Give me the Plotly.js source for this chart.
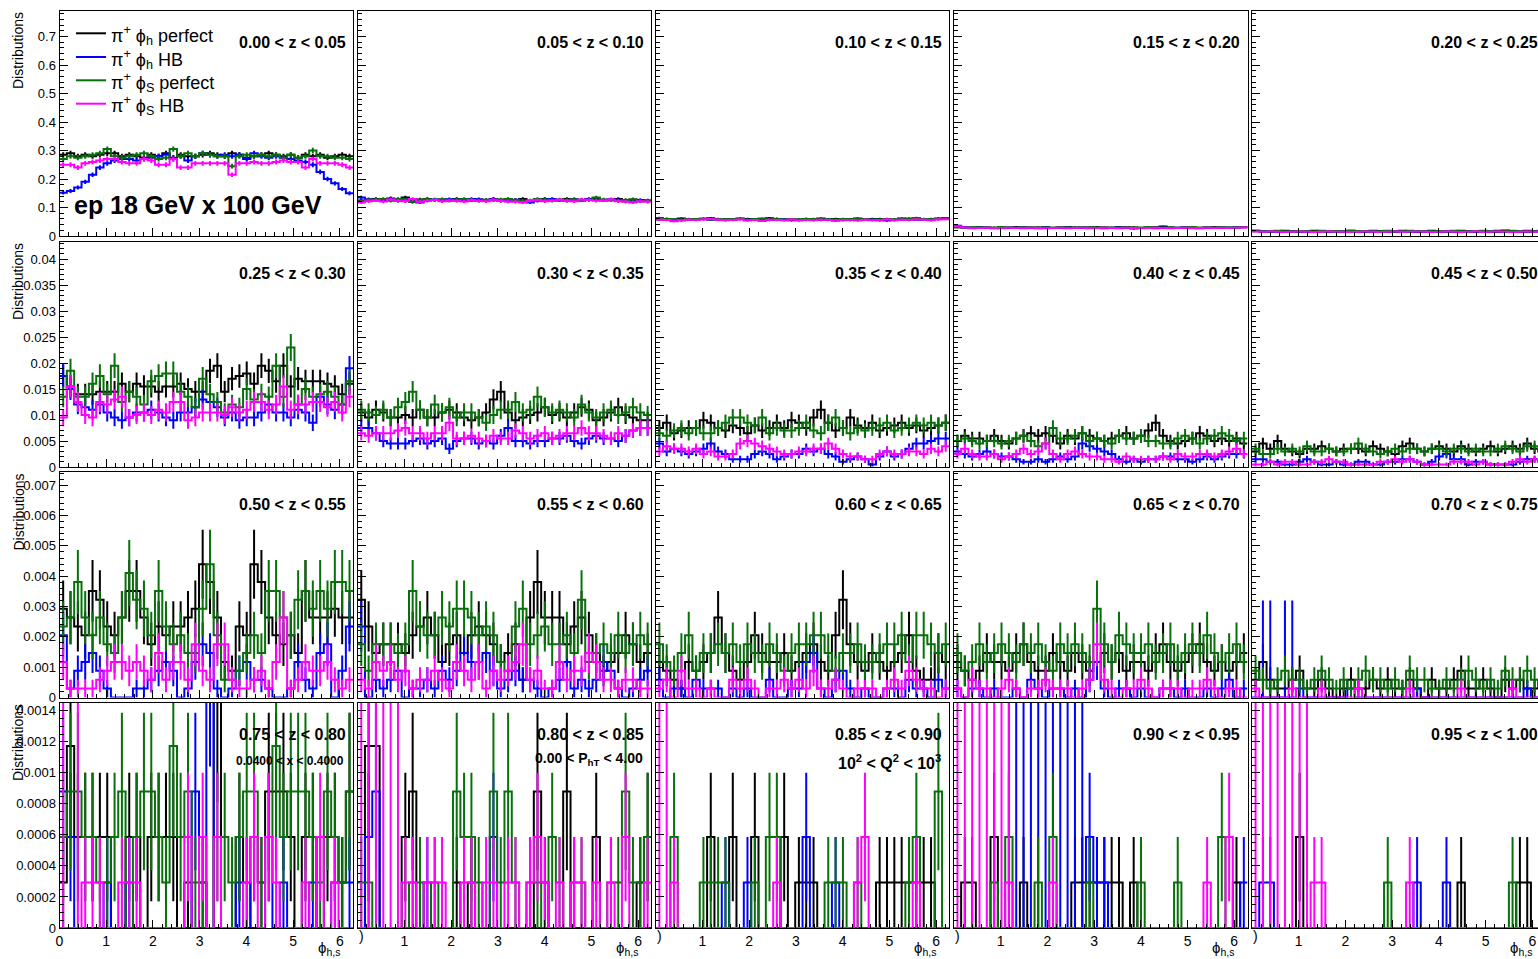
<!DOCTYPE html>
<html>
<head>
<meta charset="utf-8">
<script src="https://cdn.plot.ly/plotly-3.0.1.min.js"></script>
<style>
html,body{margin:0;padding:0;background:#fff;overflow:hidden;width:1538px;height:959px;}
#chart{width:1560px;height:959px;}
</style>
</head>
<body>
<div id="chart"></div>
<script>
// ---------------- DATA ----------------
// 40 bins in phi over [0, 2*pi]; one event has weight EVENT_W in "Distributions"
const N_BINS = 40;
const EVENT_W = 0.000293;
const WIDE_ERR = 0.0032;   // error of HB bins with (cancelling) large weights

const zLabels = ["0.00 < z < 0.05","0.05 < z < 0.10","0.10 < z < 0.15","0.15 < z < 0.20","0.20 < z < 0.25",
                 "0.25 < z < 0.30","0.30 < z < 0.35","0.35 < z < 0.40","0.40 < z < 0.45","0.45 < z < 0.50",
                 "0.50 < z < 0.55","0.55 < z < 0.60","0.60 < z < 0.65","0.65 < z < 0.70","0.70 < z < 0.75",
                 "0.75 < z < 0.80","0.80 < z < 0.85","0.85 < z < 0.90","0.90 < z < 0.95","0.95 < z < 1.00"];
const seriesNames = ["π<sup>+</sup> ϕ<sub>h</sub> perfect","π<sup>+</sup> ϕ<sub>h</sub> HB","π<sup>+</sup> ϕ<sub>S</sub> perfect","π<sup>+</sup> ϕ<sub>S</sub> HB"];
const xTickVals = [0,1,2,3,4,5,6];
const yTickVals = [[0,0.1,0.2,0.3,0.4,0.5,0.6,0.7],
                   [0,0.005,0.01,0.015,0.02,0.025,0.03,0.035,0.04],
                   [0,0.001,0.002,0.003,0.004,0.005,0.006,0.007],
                   [0,0.0002,0.0004,0.0006,0.0008,0.001,0.0012,0.0014]];
const yTickText = [["0","0.1","0.2","0.3","0.4","0.5","0.6","0.7"],
                   ["0","0.005","0.01","0.015","0.02","0.025","0.03","0.035","0.04"],
                   ["0","0.001","0.002","0.003","0.004","0.005","0.006","0.007"],
                   ["0","0.0002","0.0004","0.0006","0.0008","0.001","0.0012","0.0014"]];
const yMax = [0.7914, 0.04338, 0.007437, 0.001453];

// ---- rows 1-2: values in "Distributions" units ----
const z00_phPerf = [0.285,0.29,0.28,0.285,0.28,0.285,0.29,0.29,0.28,0.285, 0.28,0.275,0.285,0.28,0.29,0.275,0.285,0.28,0.28,0.285, 0.29,0.285,0.28,0.29,0.285,0.275,0.28,0.285,0.29,0.285, 0.28,0.285,0.275,0.285,0.28,0.285,0.275,0.28,0.285,0.28];
const z00_phHB   = [0.152,0.158,0.17,0.19,0.215,0.24,0.255,0.265,0.27,0.27, 0.265,0.27,0.275,0.28,0.285,0.27,0.28,0.265,0.28,0.29, 0.285,0.28,0.285,0.28,0.285,0.27,0.29,0.28,0.275,0.28, 0.275,0.27,0.265,0.26,0.25,0.225,0.2,0.185,0.165,0.15];
const z00_psPerf = [0.27,0.28,0.275,0.28,0.285,0.29,0.305,0.28,0.275,0.28, 0.285,0.29,0.28,0.27,0.275,0.305,0.28,0.29,0.28,0.29, 0.285,0.28,0.28,0.245,0.28,0.285,0.28,0.285,0.28,0.285, 0.275,0.285,0.275,0.28,0.3,0.28,0.28,0.275,0.275,0.27];
const z00_psHB   = [0.25,0.25,0.24,0.255,0.26,0.265,0.27,0.27,0.26,0.255, 0.255,0.27,0.265,0.25,0.25,0.27,0.24,0.24,0.255,0.255, 0.255,0.255,0.255,0.215,0.255,0.255,0.26,0.255,0.255,0.26, 0.265,0.26,0.26,0.24,0.27,0.255,0.255,0.255,0.25,0.24];

const z05_phPerf = [0.125,0.128,0.13,0.126,0.132,0.128,0.135,0.12,0.128,0.13, 0.126,0.128,0.125,0.13,0.127,0.125,0.128,0.124,0.13,0.126, 0.128,0.125,0.13,0.122,0.127,0.13,0.128,0.125,0.13,0.127, 0.125,0.128,0.132,0.126,0.127,0.13,0.125,0.128,0.122,0.124];
const z05_phHB   = [0.135,0.128,0.125,0.127,0.13,0.124,0.128,0.126,0.118,0.125, 0.128,0.126,0.129,0.127,0.125,0.13,0.128,0.126,0.13,0.124, 0.122,0.127,0.125,0.118,0.124,0.128,0.13,0.126,0.124,0.129, 0.126,0.13,0.127,0.125,0.128,0.126,0.122,0.124,0.126,0.125];
const z05_psPerf = [0.122,0.126,0.128,0.13,0.124,0.13,0.128,0.122,0.126,0.129, 0.127,0.128,0.124,0.127,0.13,0.126,0.124,0.127,0.125,0.128, 0.13,0.126,0.124,0.125,0.13,0.127,0.124,0.128,0.126,0.129, 0.125,0.127,0.135,0.128,0.125,0.124,0.126,0.128,0.122,0.124];
const z05_psHB   = [0.118,0.122,0.125,0.121,0.128,0.124,0.122,0.13,0.12,0.124, 0.126,0.122,0.125,0.123,0.121,0.126,0.124,0.122,0.127,0.123, 0.121,0.12,0.118,0.124,0.126,0.122,0.125,0.127,0.124,0.122, 0.128,0.126,0.124,0.125,0.128,0.122,0.12,0.118,0.122,0.12];

const z10_phPerf = [0.058,0.06,0.057,0.061,0.059,0.058,0.06,0.062,0.058,0.059, 0.057,0.061,0.06,0.058,0.059,0.062,0.06,0.058,0.059,0.057, 0.06,0.059,0.061,0.058,0.06,0.057,0.059,0.061,0.058,0.06, 0.06,0.059,0.058,0.061,0.06,0.062,0.058,0.06,0.061,0.062];
const z10_phHB   = [0.063,0.06,0.058,0.055,0.057,0.058,0.06,0.057,0.059,0.056, 0.058,0.06,0.057,0.059,0.058,0.056,0.06,0.058,0.055,0.057, 0.059,0.058,0.056,0.057,0.054,0.058,0.056,0.057,0.059,0.058, 0.055,0.054,0.056,0.058,0.06,0.057,0.059,0.058,0.06,0.062];
const z10_psPerf = [0.062,0.06,0.058,0.057,0.06,0.059,0.061,0.058,0.06,0.059, 0.058,0.06,0.057,0.059,0.061,0.058,0.06,0.057,0.059,0.058, 0.06,0.06,0.059,0.058,0.057,0.06,0.058,0.06,0.059,0.057, 0.058,0.06,0.058,0.059,0.061,0.063,0.06,0.059,0.06,0.061];
const z10_psHB   = [0.058,0.056,0.052,0.055,0.057,0.056,0.058,0.06,0.057,0.055, 0.056,0.058,0.054,0.056,0.053,0.057,0.056,0.055,0.058,0.054, 0.056,0.055,0.057,0.056,0.054,0.055,0.056,0.054,0.057,0.055, 0.056,0.058,0.055,0.057,0.056,0.058,0.057,0.055,0.058,0.059];

const z15_phPerf = [0.032,0.03,0.029,0.031,0.03,0.028,0.03,0.029,0.031,0.03, 0.029,0.03,0.031,0.029,0.03,0.032,0.03,0.029,0.03,0.031, 0.03,0.028,0.031,0.032,0.03,0.029,0.03,0.031,0.033,0.03, 0.029,0.031,0.03,0.029,0.03,0.031,0.03,0.029,0.03,0.032];
const z15_phHB   = [0.036,0.032,0.028,0.03,0.029,0.027,0.029,0.03,0.028,0.03, 0.029,0.027,0.03,0.028,0.029,0.03,0.028,0.03,0.029,0.028, 0.027,0.029,0.03,0.028,0.026,0.028,0.029,0.027,0.03,0.028, 0.029,0.03,0.028,0.027,0.029,0.028,0.03,0.029,0.03,0.031];
const z15_psPerf = [0.03,0.029,0.031,0.03,0.029,0.03,0.031,0.03,0.028,0.03, 0.031,0.029,0.03,0.029,0.031,0.03,0.029,0.031,0.03,0.029, 0.03,0.03,0.029,0.031,0.03,0.029,0.031,0.03,0.029,0.03, 0.028,0.03,0.031,0.029,0.03,0.029,0.031,0.03,0.03,0.031];
const z15_psHB   = [0.034,0.03,0.027,0.028,0.029,0.028,0.027,0.029,0.028,0.027, 0.029,0.028,0.027,0.028,0.029,0.027,0.028,0.029,0.027,0.028, 0.029,0.028,0.027,0.029,0.028,0.027,0.028,0.029,0.028,0.027, 0.028,0.029,0.027,0.028,0.029,0.028,0.029,0.028,0.029,0.03];

const z20_phPerf = [0.018,0.017,0.016,0.017,0.018,0.017,0.016,0.017,0.018,0.017, 0.016,0.017,0.017,0.018,0.016,0.017,0.018,0.017,0.016,0.017, 0.018,0.017,0.017,0.016,0.018,0.017,0.016,0.017,0.018,0.017, 0.016,0.017,0.017,0.018,0.019,0.017,0.016,0.018,0.017,0.018];
const z20_phHB   = [0.018,0.016,0.015,0.014,0.015,0.016,0.014,0.015,0.014,0.016, 0.015,0.014,0.015,0.016,0.015,0.014,0.015,0.016,0.015,0.014, 0.016,0.015,0.014,0.015,0.016,0.014,0.015,0.014,0.016,0.015, 0.014,0.016,0.015,0.014,0.015,0.016,0.015,0.014,0.016,0.017];
const z20_psPerf = [0.017,0.016,0.017,0.018,0.017,0.016,0.017,0.017,0.016,0.018, 0.017,0.016,0.017,0.018,0.017,0.016,0.017,0.017,0.018,0.016, 0.017,0.018,0.017,0.016,0.017,0.017,0.016,0.018,0.017,0.016, 0.017,0.018,0.017,0.016,0.017,0.018,0.017,0.016,0.017,0.017];
const z20_psHB   = [0.016,0.015,0.016,0.015,0.014,0.015,0.016,0.015,0.014,0.015, 0.016,0.015,0.015,0.014,0.015,0.016,0.015,0.014,0.015,0.016, 0.015,0.015,0.016,0.015,0.014,0.015,0.016,0.015,0.014,0.015, 0.016,0.015,0.015,0.016,0.015,0.014,0.015,0.016,0.015,0.016];

const z25_phPerf = [0.0175,0.0155,0.014,0.014,0.014,0.0145,0.0145,0.0145,0.016,0.0145, 0.016,0.0155,0.0155,0.0145,0.0155,0.0155,0.016,0.015,0.0145,0.0145, 0.0185,0.0195,0.0145,0.017,0.0175,0.018,0.016,0.0195,0.0185,0.0165, 0.0195,0.0155,0.017,0.0165,0.0165,0.0165,0.016,0.0155,0.014,0.016];
const z25_phHB   = [0.0175,0.015,0.012,0.0115,0.011,0.012,0.0105,0.0095,0.009,0.0095, 0.0105,0.0105,0.011,0.0105,0.0095,0.009,0.0105,0.0105,0.0115,0.013, 0.0125,0.0115,0.0095,0.0105,0.009,0.0095,0.0095,0.0105,0.012,0.0105, 0.0105,0.0095,0.011,0.0105,0.0085,0.0135,0.012,0.011,0.012,0.019];
const z25_psPerf = [0.0135,0.0185,0.0135,0.0135,0.016,0.0175,0.014,0.0195,0.0125,0.0145, 0.0135,0.012,0.0165,0.0175,0.018,0.018,0.0145,0.0135,0.0115,0.017, 0.014,0.0125,0.0105,0.012,0.0115,0.015,0.013,0.014,0.0135,0.0195, 0.0135,0.023,0.012,0.015,0.0135,0.014,0.0145,0.0135,0.012,0.0165];
const z25_psHB   = [0.0095,0.0155,0.0125,0.01,0.0095,0.0125,0.012,0.013,0.0135,0.0095, 0.01,0.0105,0.01,0.011,0.0105,0.0125,0.0125,0.009,0.0095,0.0105, 0.0105,0.0105,0.01,0.0115,0.0105,0.011,0.0125,0.0125,0.011,0.012, 0.0155,0.011,0.012,0.012,0.0125,0.0125,0.0115,0.0125,0.0105,0.0135];

const z30_phPerf = [0.0105,0.0095,0.011,0.0105,0.0095,0.0095,0.01,0.0095,0.011,0.0095, 0.0095,0.0105,0.011,0.0105,0.0095,0.009,0.0095,0.0105,0.013,0.0145, 0.0105,0.009,0.0095,0.01,0.0105,0.0115,0.01,0.0105,0.0095,0.0105, 0.0115,0.011,0.009,0.0095,0.0105,0.0115,0.01,0.0095,0.009,0.009];
const z30_phHB   = [0.0075,0.0075,0.0065,0.005,0.0045,0.0045,0.0045,0.005,0.0055,0.0045, 0.005,0.0055,0.0035,0.005,0.0055,0.0055,0.0045,0.005,0.0045,0.006, 0.0075,0.005,0.005,0.0045,0.005,0.005,0.0055,0.0055,0.006,0.005, 0.0045,0.0055,0.006,0.0055,0.0055,0.005,0.006,0.007,0.0075,0.0075];
const z30_psPerf = [0.011,0.0105,0.01,0.011,0.0095,0.0115,0.0125,0.0145,0.011,0.0095, 0.012,0.0105,0.0115,0.0095,0.0105,0.0105,0.0095,0.0085,0.01,0.011, 0.011,0.0125,0.0105,0.011,0.0135,0.0115,0.0105,0.011,0.0105,0.0095, 0.012,0.0105,0.0095,0.0105,0.011,0.01,0.0105,0.0115,0.0105,0.01];
const z30_psHB   = [0.0065,0.006,0.0065,0.0065,0.0065,0.007,0.0075,0.0065,0.0065,0.0055, 0.0065,0.0065,0.0085,0.0055,0.0055,0.006,0.0055,0.005,0.006,0.0055, 0.0055,0.007,0.0065,0.0055,0.006,0.0065,0.0055,0.006,0.0065,0.0065, 0.0075,0.0065,0.0065,0.006,0.0055,0.0065,0.006,0.007,0.0075,0.0075];

const z35_phPerf = [0.0075,0.0085,0.0065,0.007,0.0075,0.0075,0.009,0.0085,0.0075,0.007, 0.008,0.0075,0.0065,0.008,0.007,0.0075,0.0085,0.0075,0.009,0.0085, 0.0075,0.0095,0.011,0.0085,0.007,0.0075,0.0095,0.008,0.0075,0.0085, 0.007,0.0075,0.008,0.0085,0.0075,0.008,0.007,0.0075,0.008,0.0085];
const z35_phHB   = [0.0045,0.003,0.0035,0.003,0.0025,0.003,0.0035,0.0045,0.003,0.0025, 0.0015,0.0015,0.0015,0.0025,0.003,0.0025,0.0015,0.002,0.0025,0.0025, 0.0035,0.003,0.0035,0.0025,0.002,0.001,0.0015,0.002,0.0015,0.0005, 0.002,0.003,0.002,0.0025,0.0035,0.0045,0.0045,0.005,0.0055,0.0055];
const z35_psPerf = [0.0065,0.006,0.007,0.0075,0.0065,0.0075,0.0065,0.0065,0.0075,0.0085, 0.0095,0.0095,0.0085,0.008,0.0095,0.0065,0.0075,0.007,0.007,0.0075, 0.0085,0.007,0.0065,0.0085,0.0095,0.0075,0.0065,0.0075,0.007,0.0075, 0.008,0.0085,0.007,0.0075,0.008,0.0085,0.008,0.0085,0.008,0.0085];
const z35_psHB   = [0.003,0.004,0.0035,0.0035,0.003,0.0035,0.0025,0.003,0.002,0.002, 0.0025,0.0045,0.005,0.0045,0.004,0.0035,0.003,0.0025,0.0025,0.003, 0.003,0.0035,0.0035,0.0045,0.0035,0.0025,0.002,0.002,0.0015,0.0015, 0.0025,0.003,0.0025,0.0025,0.003,0.003,0.0025,0.0035,0.003,0.004];

const z40_phPerf = [0.005,0.006,0.0055,0.0055,0.005,0.006,0.005,0.0045,0.0055,0.006, 0.0065,0.006,0.0065,0.006,0.0045,0.006,0.0055,0.0065,0.006,0.0055, 0.005,0.0055,0.006,0.0065,0.0055,0.006,0.007,0.0085,0.006,0.005, 0.0045,0.005,0.0055,0.0065,0.006,0.005,0.0055,0.005,0.0055,0.0045];
const z40_phHB   = [0.003,0.0025,0.002,0.0025,0.003,0.0025,0.002,0.002,0.0015,0.001, 0.001,0.0015,0.001,0.0015,0.002,0.0015,0.002,0.0045,0.004,0.0035, 0.003,0.0025,0.0015,0.001,0.0015,0.001,0.0015,0.0015,0.002,0.002, 0.0015,0.0015,0.001,0.0015,0.002,0.0015,0.002,0.0025,0.0025,0.0025];
const z40_psPerf = [0.005,0.0055,0.005,0.0045,0.005,0.005,0.0045,0.005,0.0055,0.006, 0.005,0.004,0.0045,0.0075,0.0055,0.0055,0.006,0.0065,0.005,0.0055, 0.005,0.0045,0.006,0.0055,0.0055,0.006,0.005,0.005,0.0045,0.0045, 0.0055,0.006,0.0055,0.0045,0.0055,0.006,0.0065,0.006,0.005,0.0055];
const z40_psHB   = [0.0025,0.0035,0.0025,0.002,0.002,0.0025,0.0015,0.002,0.0025,0.0035, 0.0025,0.003,0.0045,0.0025,0.0015,0.0025,0.003,0.0025,0.002,0.002, 0.0015,0.0015,0.001,0.002,0.0015,0.0015,0.0015,0.0015,0.002,0.0015, 0.0025,0.002,0.002,0.0025,0.0025,0.002,0.0025,0.003,0.0035,0.0025];

const z45_phPerf = [0.003,0.0045,0.0035,0.005,0.0035,0.003,0.0025,0.0035,0.0035,0.004, 0.0035,0.003,0.0035,0.0035,0.0035,0.003,0.004,0.0035,0.003,0.0025, 0.004,0.0045,0.0035,0.003,0.0035,0.004,0.0035,0.003,0.004,0.0035, 0.003,0.0035,0.004,0.003,0.0035,0.004,0.0035,0.0045,0.0035,0.003];
const z45_phHB   = [0.0015,0.0015,0.001,0.001,0.0005,0.0005,0.001,0.0015,0.001,0.0005, 0.0005,0.001,0.0005,0.0005,0.001,0.001,0.0005,0.0005,0.001,0.001, 0.0015,0.0015,0.001,0.0005,0.001,0.002,0.0025,0.0015,0.0015,0.0005, 0.001,0.001,0.0005,0.0005,0.0005,0.0005,0.001,0.0015,0.0015,0.001];
const z45_psPerf = [0.0035,0.0025,0.0025,0.0035,0.003,0.0035,0.003,0.004,0.003,0.003, 0.0035,0.003,0.003,0.0035,0.0045,0.0035,0.003,0.0025,0.003,0.0035, 0.003,0.0035,0.0035,0.003,0.0035,0.0035,0.003,0.0035,0.0035,0.003, 0.0035,0.003,0.003,0.0035,0.004,0.0035,0.003,0.004,0.004,0.0035];
const z45_psHB   = [0.0005,0.0005,0.001,0.0005,0.001,0.001,0.0005,0.0005,0.001,0.001, 0.0015,0.001,0.001,0.0005,0.0005,0.0005,0.0005,0.001,0.001,0.0015, 0.001,0.0015,0.001,0.0005,0.0005,0.0005,0.0005,0.001,0.001,0.001, 0.0005,0.001,0.0005,0.0005,0.0005,0.001,0.0015,0.001,0.0015,0.001];

// ---- rows 3-4: event counts per bin (times EVENT_W) ----
const z50_phPerf_n = [10,9,8,7,12,11,8,7,9,12, 12,9,6,8,7,8,8,9,10,15, 13,9,4,3,8,7,15,13,9,7, 6,7,5,12,9,9,9,10,9,9];
const z50_phHB_n   = [7,1,3,4,5,3,1,0,0,0, 1,1,2,3,4,3,0,1,4,6, 5,1,0,1,3,4,2,2,1,0, 0,1,4,2,1,5,6,0,3,8];
const z50_psPerf_n = [8,9,13,9,7,9,6,5,9,14, 11,10,7,12,8,6,7,5,5,10, 15,7,2,2,3,5,7,5,12,12, 9,7,11,12,10,12,10,13,13,12];
const z50_psHB_n   = [4,1,1,1,1,2,3,4,4,3, 4,3,2,5,2,4,4,2,6,3, 2,6,6,2,1,1,2,3,1,4, 9,1,2,4,3,3,4,2,1,2];

const z55_phPerf_n = [11,8,5,6,6,6,5,7,8,9, 7,4,6,7,5,7,8,7,6,4, 5,6,2,9,13,9,9,9,6,8, 9,7,5,3,4,5,7,6,4,5];
const z55_phHB_n   = [8,0,2,1,2,3,0,1,1,2, 1,3,2,3,5,4,4,5,3,1, 2,3,2,2,1,0,1,2,4,1, 2,1,2,4,3,1,0,1,2,3];
const z55_psPerf_n = [6,3,6,6,6,5,6,12,8,7, 7,9,8,10,10,9,7,8,7,4, 3,8,10,6,7,8,6,6,7,5, 11,4,5,6,5,7,5,6,7,6];
const z55_psHB_n   = [2,1,4,3,4,2,3,1,2,2, 3,2,1,4,3,2,4,1,3,2, 3,4,6,2,3,1,1,4,2,3, 3,5,4,2,2,1,2,2,1,1];

const z60_phPerf_n = [4,3,2,1,4,3,4,5,9,5, 3,2,4,7,5,4,4,5,3,4, 5,6,4,3,7,11,6,4,3,5, 4,3,4,5,7,3,2,2,5,4];
const z60_phHB_n   = [2,0,1,1,0,2,1,1,1,0, 1,0,1,0,0,2,0,0,1,1, 4,5,1,0,2,3,1,0,1,0, 0,1,1,0,2,1,1,0,2,1];
const z60_psPerf_n = [6,4,3,5,7,3,5,5,6,5, 6,4,6,5,4,6,5,3,5,6, 6,7,7,5,3,5,5,6,4,4, 5,6,6,7,4,7,7,6,5,6];
const z60_psHB_n   = [1,2,0,3,1,1,0,1,0,0, 2,1,2,1,0,1,1,2,1,2, 1,3,1,1,2,1,0,1,1,1, 0,1,2,1,3,2,1,1,0,1];

const z65_phPerf_n = [4,3,2,3,5,4,4,3,5,6, 4,3,3,5,4,3,5,4,3,4, 5,4,5,3,4,4,3,5,6,4, 3,4,5,6,4,3,4,3,4,5];
const z65_phHB_n   = [1,0,1,1,0,1,0,0,1,0, 2,1,0,1,1,0,1,0,2,4, 1,0,1,1,0,1,0,0,1,1, 0,1,0,0,1,0,1,2,0,1];
const z65_psPerf_n = [5,3,4,6,4,5,6,5,4,6, 5,6,4,3,6,5,6,5,4,10, 6,4,7,6,5,5,6,4,5,6, 4,5,6,5,7,5,4,5,6,4];
const z65_psHB_n   = [1,0,2,1,1,0,1,2,1,0, 1,1,2,1,1,1,0,1,2,6, 2,1,0,1,1,2,1,0,1,1, 1,0,1,1,2,1,0,1,1,0];

const z70_phPerf_n = [2,4,2,1,1,2,3,1,1,2, 1,0,1,2,1,1,2,1,2,1, 1,2,1,0,2,1,1,2,3,1, 1,2,1,0,2,1,2,1,1,2];
const z70_phHB_n   = [0,0,0,0,0,0,1,0,0,0, 0,0,0,1,0,0,0,0,0,0, 0,0,1,0,0,0,0,0,0,0, 0,0,0,0,0,0,0,1,0,0];
const z70_psPerf_n = [3,2,1,2,3,2,2,1,2,3, 2,1,2,1,2,3,2,2,1,2, 1,3,2,2,1,1,2,1,2,3, 2,1,2,1,3,2,2,3,2,2];
const z70_psHB_n   = [1,0,0,0,0,1,0,0,0,1, 0,0,0,0,1,0,0,0,0,0, 0,1,0,0,0,0,0,0,1,0, 0,0,0,0,0,1,0,0,0,0];

const z75_phPerf_n = [1,4,2,2,2,2,2,0,0,2, 2,0,2,2,2,2,0,1,0,1, 0,5,0,0,2,0,2,1,3,3, 3,2,0,2,2,0,2,2,1,3];
const z75_phHB_n   = [3,2,0,0,0,0,1,0,0,1, 0,0,0,0,0,0,0,0,3,0, 6,0,0,0,1,1,0,0,2,0, 1,0,0,0,1,0,0,1,1,1];
const z75_psPerf_n = [2,3,3,2,2,1,1,2,3,0, 2,3,3,2,1,4,2,3,1,1, 0,2,2,1,2,3,3,1,2,4, 2,3,3,3,2,1,3,2,1,3];
const z75_psHB_n   = [0,0,0,1,1,1,0,0,1,1, 1,0,0,0,0,0,0,2,0,2, 0,2,0,0,0,1,2,0,2,1, 0,0,0,1,0,2,0,1,0,0];

const z80_phPerf_n = [0,4,4,0,0,0,2,3,0,0, 0,0,0,1,0,1,0,0,0,0, 0,0,0,0,3,1,0,0,3,0, 0,0,2,0,0,0,0,0,1,2];
const z80_phHB_n   = [0,2,3,0,0,0,0,0,0,1, 0,0,0,0,0,0,0,0,2,0, 0,0,0,0,0,0,0,0,0,0, 0,0,0,0,0,0,0,0,0,0];
const z80_psPerf_n = [1,1,0,0,0,0,0,1,1,0, 1,0,0,3,2,2,1,0,3,1, 3,1,0,1,1,0,2,1,0,1, 1,0,0,0,1,1,3,1,1,2];
const z80_psHB_n   = [0,0,0,0,0,0,1,1,0,1, 1,1,0,0,1,1,0,1,1,0, 1,1,0,1,2,1,0,1,0,1, 1,0,1,0,1,0,2,0,0,1];

const z85_phPerf_n = [0,0,0,0,0,0,0,2,0,0, 2,0,0,2,0,0,0,2,0,1, 1,1,0,0,0,0,0,0,0,0, 1,1,1,1,1,1,1,1,0,0];
const z85_phHB_n   = [0,0,0,0,0,0,0,0,0,1, 0,0,1,0,0,0,0,0,0,0, 2,0,0,0,1,0,0,0,0,0, 0,0,0,0,0,0,0,0,0,0];
const z85_psPerf_n = [0,0,2,0,0,0,1,1,1,1, 0,0,0,1,0,2,2,0,0,0, 0,0,0,1,1,1,0,1,0,0, 0,0,0,0,1,2,0,0,3,0];
const z85_psHB_n   = [0,0,1,0,0,0,0,0,0,0, 0,0,0,0,0,0,1,0,0,0, 0,0,0,0,0,0,0,1,2,0, 0,0,0,0,0,1,0,0,0,0];

const z90_phPerf_n = [0,1,1,0,0,2,0,0,0,1, 0,0,0,0,0,0,1,1,1,1, 1,1,1,0,1,0,0,0,0,0, 0,0,0,0,0,0,0,0,1,0];
const z90_phHB_n   = [0,0,0,0,0,0,0,0,0,0, 0,0,0,0,0,0,0,0,2,1, 1,0,0,0,0,0,0,0,0,0, 0,0,0,0,0,0,0,0,0,1];
const z90_psPerf_n = [0,0,0,0,0,1,0,2,0,0, 0,1,0,2,0,0,0,0,1,0, 0,0,0,0,0,1,0,0,0,0, 1,0,0,0,0,0,2,0,0,0];
const z90_psHB_n   = [0,0,0,0,0,0,0,1,0,0, 0,0,0,1,0,0,0,0,0,0, 0,0,0,0,0,0,0,0,0,0, 0,0,0,0,1,0,0,2,0,0];

const z95_phPerf_n = [0,0,0,0,0,0,2,0,0,0, 0,0,0,0,0,0,0,0,0,0, 0,0,0,0,0,0,0,0,1,0, 0,0,0,0,0,0,1,1,0,0];
const z95_phHB_n   = [0,1,1,0,0,0,0,0,0,0, 0,0,0,0,0,0,0,0,0,0, 0,0,1,0,0,0,1,0,0,0, 0,0,0,0,0,0,0,0,0,0];
const z95_psPerf_n = [0,0,0,0,0,0,0,0,0,0, 0,0,0,0,0,0,0,0,1,0, 0,0,0,0,0,0,0,0,0,0, 0,0,0,0,0,1,0,0,0,0];
const z95_psHB_n   = [0,0,0,0,0,0,0,0,1,1, 0,0,0,0,0,0,0,0,0,0, 0,1,0,0,0,0,0,0,0,0, 0,0,0,0,0,0,0,0,0,0];

// HB bins showing a very wide error bar: {panelIndex: {seriesIndex: [bins]}}
const hbWideErrBins = {
  14: {1: [1,2,4,5]},
  15: {3: [0,2]},
  16: {3: [0,1,2,3,4,5]},
  17: {3: [0,1]},
  18: {3: [0,1,2,3,4,5,6,7], 1: [7,8,9,10,11,12,13,14,15,16,17]},
  19: {3: [0,1,2,3,4,5,6,7]}
};

// ---------------- BUILD ----------------
const counts = a => a.map(n => n * EVENT_W);
const panelData = [
  [z00_phPerf, z00_phHB, z00_psPerf, z00_psHB],
  [z05_phPerf, z05_phHB, z05_psPerf, z05_psHB],
  [z10_phPerf, z10_phHB, z10_psPerf, z10_psHB],
  [z15_phPerf, z15_phHB, z15_psPerf, z15_psHB],
  [z20_phPerf, z20_phHB, z20_psPerf, z20_psHB],
  [z25_phPerf, z25_phHB, z25_psPerf, z25_psHB],
  [z30_phPerf, z30_phHB, z30_psPerf, z30_psHB],
  [z35_phPerf, z35_phHB, z35_psPerf, z35_psHB],
  [z40_phPerf, z40_phHB, z40_psPerf, z40_psHB],
  [z45_phPerf, z45_phHB, z45_psPerf, z45_psHB],
  [z50_phPerf_n, z50_phHB_n, z50_psPerf_n, z50_psHB_n].map(counts),
  [z55_phPerf_n, z55_phHB_n, z55_psPerf_n, z55_psHB_n].map(counts),
  [z60_phPerf_n, z60_phHB_n, z60_psPerf_n, z60_psHB_n].map(counts),
  [z65_phPerf_n, z65_phHB_n, z65_psPerf_n, z65_psHB_n].map(counts),
  [z70_phPerf_n, z70_phHB_n, z70_psPerf_n, z70_psHB_n].map(counts),
  [z75_phPerf_n, z75_phHB_n, z75_psPerf_n, z75_psHB_n].map(counts),
  [z80_phPerf_n, z80_phHB_n, z80_psPerf_n, z80_psHB_n].map(counts),
  [z85_phPerf_n, z85_phHB_n, z85_psPerf_n, z85_psHB_n].map(counts),
  [z90_phPerf_n, z90_phHB_n, z90_psPerf_n, z90_psHB_n].map(counts),
  [z95_phPerf_n, z95_phHB_n, z95_psPerf_n, z95_psHB_n].map(counts)
];

const COLORS = ['#000000', '#0000ff', '#08700a', '#ff00ff'];
const FONT = 'Liberation Sans, Arial, Helvetica, sans-serif';
const FIG_W = 1560, FIG_H = 959;
const colX0 = [59.5, 357.6, 655.7, 953.8, 1251.9];
const panelW = 293.7;
const rowTop = [10.5, 241.5, 472, 702.5];
const panelH = 225.5;
const px2x = px => px / FIG_W;
const px2y = py => 1 - py / FIG_H;

const TWO_PI = 2 * Math.PI;
const edges = Array.from({length: N_BINS + 1}, (_, k) => k * TWO_PI / N_BINS);
const centers = Array.from({length: N_BINS}, (_, k) => (k + 0.5) * TWO_PI / N_BINS);

const traces = [];
const layout = {
  width: FIG_W, height: FIG_H,
  margin: {l: 0, r: 0, t: 0, b: 0},
  paper_bgcolor: '#fff', plot_bgcolor: '#fff',
  showlegend: false,
  font: {family: FONT, color: '#000', size: 14},
  annotations: [], shapes: []
};
const bold = size => ({family: FONT, size: size, color: '#000', weight: 'bold'});
const plain = size => ({family: FONT, size: size, color: '#000'});

for (let p = 0; p < 20; p++) {
  const r = Math.floor(p / 5), c = p % 5, n = p + 1;
  const xid = n === 1 ? 'x' : 'x' + n, yid = n === 1 ? 'y' : 'y' + n;
  const top = yMax[r];
  panelData[p].forEach((vals, s) => {
    const wide = (hbWideErrBins[p] && hbWideErrBins[p][s]) || [];
    traces.push({
      x: edges, y: vals.concat([vals[vals.length - 1]]),
      xaxis: xid, yaxis: yid, mode: 'lines',
      line: {shape: 'hv', color: COLORS[s], width: 2},
      hoverinfo: 'skip'
    });
    const up = [], dn = [];
    vals.forEach((v, i) => {
      let e = Math.sqrt(v * EVENT_W);
      if (wide.includes(i)) e = WIDE_ERR;
      up.push(Math.max(0, Math.min(e, top - v)));
      dn.push(Math.min(e, v));
    });
    traces.push({
      x: centers, y: vals, xaxis: xid, yaxis: yid, mode: 'lines',
      line: {width: 0, color: 'rgba(0,0,0,0)'},
      error_y: {type: 'data', symmetric: false, array: up, arrayminus: dn, width: 0, thickness: 2, color: COLORS[s]},
      hoverinfo: 'skip'
    });
  });
  const x0 = colX0[c], yTopPx = rowTop[r];
  layout['xaxis' + (n === 1 ? '' : n)] = {
    domain: [px2x(x0), px2x(x0 + panelW)], range: [0, TWO_PI], anchor: yid,
    showline: true, mirror: true, linecolor: '#000', linewidth: 1,
    showgrid: false, zeroline: false,
    ticks: 'inside', ticklen: 8, tickwidth: 1, tickcolor: '#000',
    tickmode: 'array', tickvals: c === 0 ? xTickVals : xTickVals.slice(1),
    ticktext: (c === 0 ? xTickVals : xTickVals.slice(1)).map(String),
    showticklabels: r === 3, tickfont: plain(14),
    minor: {tickmode: 'linear', tick0: 0, dtick: 0.2, ticks: 'inside', ticklen: 4, tickwidth: 1, tickcolor: '#000', showgrid: false}
  };
  const yd = yTickVals[r][1];
  layout['yaxis' + (n === 1 ? '' : n)] = {
    domain: [px2y(yTopPx + panelH), px2y(yTopPx)], range: [0, top], anchor: xid,
    showline: true, mirror: true, linecolor: '#000', linewidth: 1,
    showgrid: false, zeroline: false,
    ticks: 'inside', ticklen: 8, tickwidth: 1, tickcolor: '#000',
    tickmode: 'array', tickvals: yTickVals[r], ticktext: yTickText[r],
    showticklabels: c === 0, tickfont: plain(13),
    minor: {tickmode: 'linear', tick0: 0, dtick: r === 3 ? yd / 4 : yd / 5, ticks: 'inside', ticklen: 4, tickwidth: 1, tickcolor: '#000', showgrid: false}
  };
  // z-bin label
  layout.annotations.push({
    xref: 'paper', yref: 'paper', x: px2x(x0 + 288.5), y: px2y(yTopPx + 32),
    xanchor: 'right', yanchor: 'middle', showarrow: false,
    text: zLabels[p].replace(/</g, '&lt;'), font: bold(16)
  });
}

// y titles (ROOT style, top aligned)
rowTop.forEach(t => {
  layout.annotations.push({
    xref: 'paper', yref: 'paper', x: px2x(18), y: px2y(t),
    xanchor: 'center', yanchor: 'top', textangle: -90, showarrow: false,
    text: 'Distributions', font: plain(14)
  });
});
// x titles and clipped "0" labels
colX0.forEach((x0, c) => {
  layout.annotations.push({
    xref: 'paper', yref: 'paper', x: px2x(x0 + 282), y: px2y(948),
    xanchor: 'right', yanchor: 'middle', showarrow: false,
    text: 'ϕ<sub>h,s</sub>', font: plain(15)
  });
  if (c > 0) layout.annotations.push({
    xref: 'paper', yref: 'paper', x: px2x(x0 - 1), y: px2y(936),
    xanchor: 'left', yanchor: 'middle', showarrow: false,
    text: ')', font: plain(14)
  });
});
// legend in first panel
const legY = [33.3, 57, 80.3, 103.7];
seriesNames.forEach((nm, s) => {
  layout.shapes.push({type: 'line', xref: 'paper', yref: 'paper',
    x0: px2x(76), x1: px2x(106), y0: px2y(legY[s]), y1: px2y(legY[s]),
    line: {color: COLORS[s], width: 2}});
  layout.annotations.push({
    xref: 'paper', yref: 'paper', x: px2x(109), y: px2y(legY[s] + 2),
    xanchor: 'left', yanchor: 'middle', showarrow: false,
    text: nm, font: plain(18)
  });
});
// other panel texts
layout.annotations.push({xref: 'paper', yref: 'paper', x: px2x(72), y: px2y(205), xanchor: 'left', yanchor: 'middle', showarrow: false,
  text: 'ep 18 GeV x 100 GeV', font: bold(25)});
layout.annotations.push({xref: 'paper', yref: 'paper', x: px2x(346), y: px2y(761), xanchor: 'right', yanchor: 'middle', showarrow: false,
  text: '0.0400 &lt; x &lt; 0.4000', font: bold(12)});
layout.annotations.push({xref: 'paper', yref: 'paper', x: px2x(645), y: px2y(759), xanchor: 'right', yanchor: 'middle', showarrow: false,
  text: '0.00 &lt; P<sub>hT</sub> &lt; 4.00', font: bold(14)});
layout.annotations.push({xref: 'paper', yref: 'paper', x: px2x(943), y: px2y(762), xanchor: 'right', yanchor: 'middle', showarrow: false,
  text: '10<sup>2</sup> &lt; Q<sup>2</sup> &lt; 10<sup>3</sup>', font: bold(16)});

Plotly.newPlot('chart', traces, layout, {staticPlot: true, displayModeBar: false});
</script>
</body>
</html>
